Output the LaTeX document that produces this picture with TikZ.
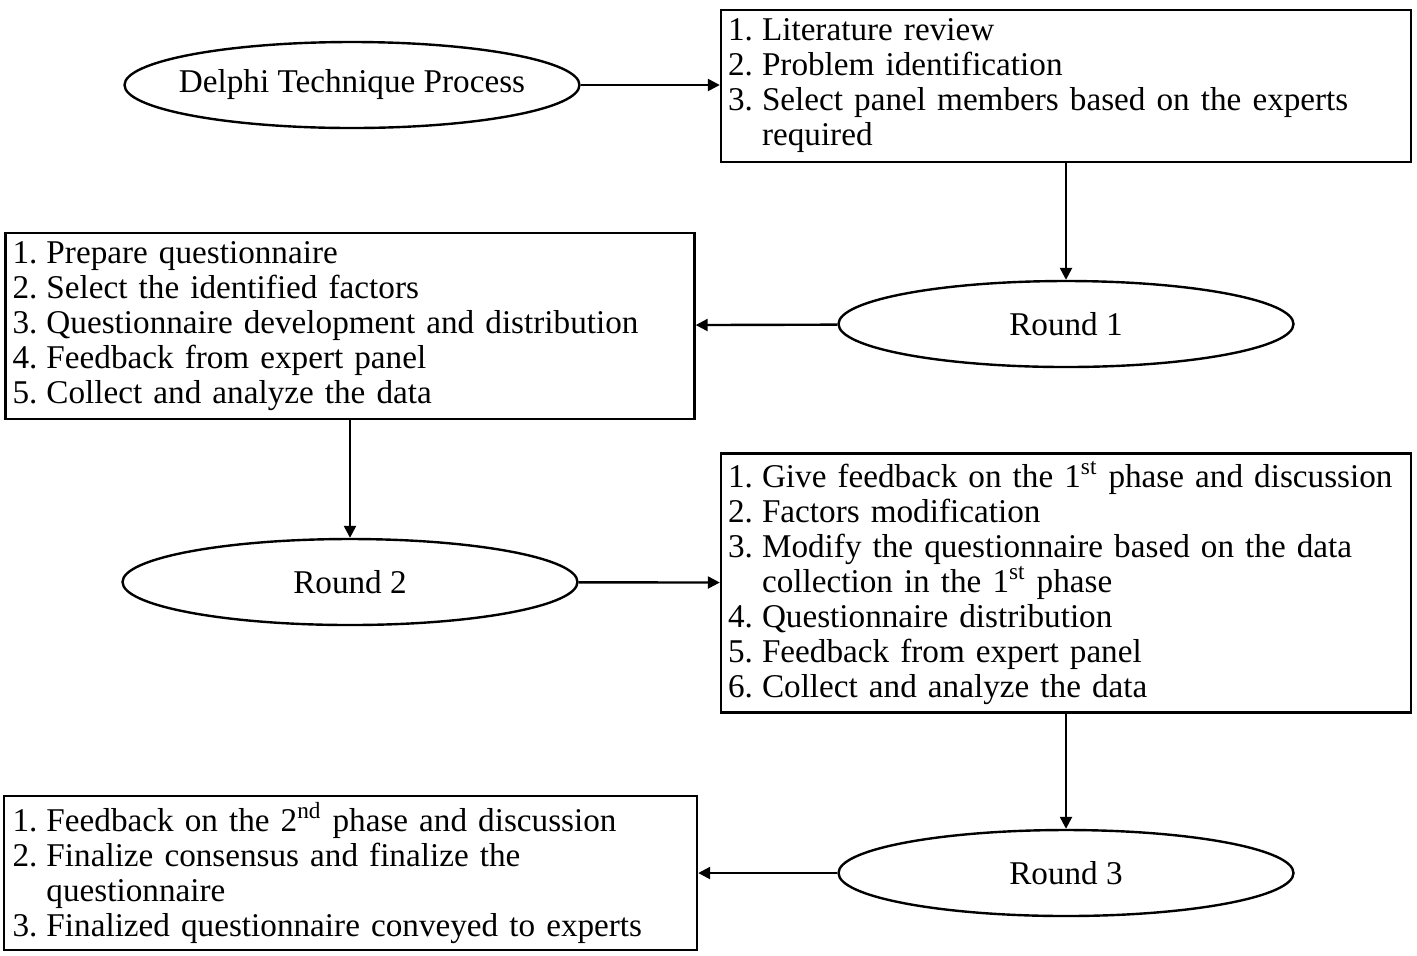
\documentclass[tikz,border=0pt]{standalone}
\usepackage{fontspec}
\setmainfont{Liberation Serif}
\usetikzlibrary{shapes.geometric,arrows.meta}
\newcommand{\itm}[1]{\makebox[17pt][l]{#1}}
\newcommand{\cont}{\hspace*{17pt}}
\begin{document}
\begin{tikzpicture}[x=0.5pt,y=-0.5pt,
  font=\fontsize{16.6pt}{17.5pt}\selectfont,
  oval/.style={ellipse,draw,line width=1.2pt,minimum width=227.5pt,minimum height=43pt,inner sep=0pt},
  listbox/.style={rectangle,draw,line width=1.2pt,align=left,inner xsep=3.5pt,inner ysep=0pt},
  flow/.style={line width=1.2pt,-{Triangle[length=6pt,width=6pt]}}]
\useasboundingbox (0,0) rectangle (1417,955);

% the ellipse keeps its set size; the label is given zero width
\node[oval] (start) at (352,85) {\makebox[0pt]{Delphi Technique Process}};
\node[listbox,minimum width=345pt,minimum height=76pt,text width=338pt] (b1) at (1066,86)
  {\itm{1.}Literature review\\
   \itm{2.}Problem identification\\
   \itm{3.}Select panel members based on the experts\\
   \cont required};

\node[oval] (r1) at (1066,324) {Round 1};
\node[listbox,minimum width=344.5pt,minimum height=93pt,text width=337.5pt] (b2) at (350,326)
  {\itm{1.}Prepare questionnaire\\
   \itm{2.}Select the identified factors\\
   \itm{3.}Questionnaire development and distribution\\
   \itm{4.}Feedback from expert panel\\
   \itm{5.}Collect and analyze the data};

\node[oval] (r2) at (350,582) {Round 2};
\node[listbox,minimum width=345pt,minimum height=129.5pt,text width=338pt] (b3) at (1066,583)
  {\itm{1.}Give feedback on the 1\textsuperscript{st} phase and discussion\\
   \itm{2.}Factors modification\\
   \itm{3.}Modify the questionnaire based on the data\\
   \cont collection in the 1\textsuperscript{st} phase\\
   \itm{4.}Questionnaire distribution\\
   \itm{5.}Feedback from expert panel\\
   \itm{6.}Collect and analyze the data};

\node[oval] (r3) at (1066,873) {Round 3};
\node[listbox,minimum width=346.5pt,minimum height=77pt,text width=338pt,inner xsep=4.25pt] (b4) at (350.5,873)
  {\itm{1.}Feedback on the 2\textsuperscript{nd} phase and discussion\\
   \itm{2.}Finalize consensus and finalize the\\
   \cont questionnaire\\
   \itm{3.}Finalized questionnaire conveyed to experts};

\draw[flow] (start) -- (b1.west |- start);
\draw[flow] (b1) -- (r1);
\draw[flow] (r1) -- (b2);
\draw[flow] (b2) -- (r2);
\draw[flow] (r2) -- (b3);
\draw[flow] (b3) -- (r3);
\draw[flow] (r3) -- (b4);
\end{tikzpicture}
\end{document}
